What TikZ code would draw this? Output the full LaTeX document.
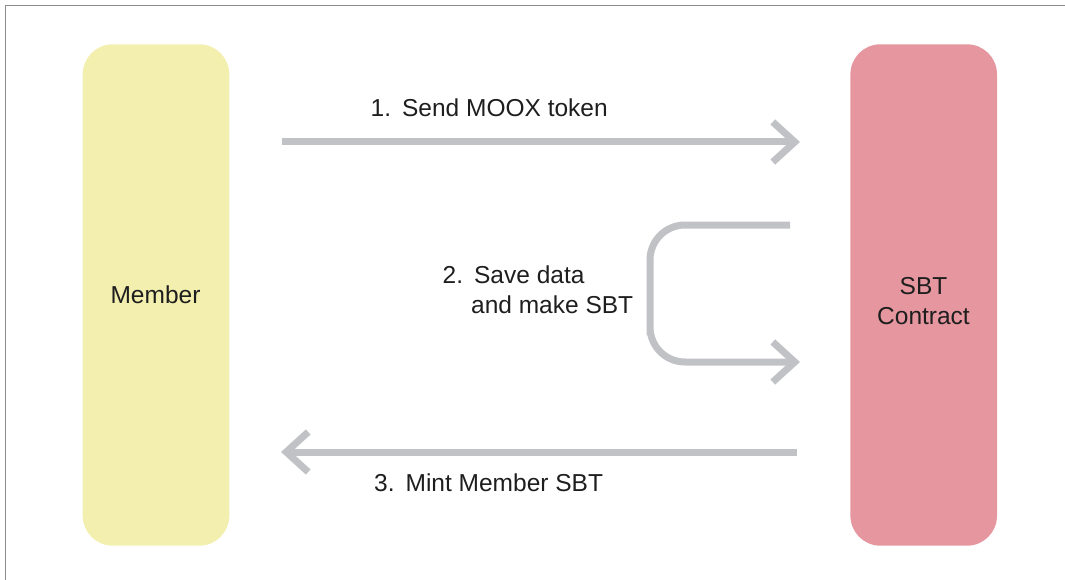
\documentclass[tikz,border=0pt]{standalone}
\usepackage{fontspec}
\setmainfont{Liberation Sans}
\usetikzlibrary{arrows.meta}
\definecolor{memberfill}{HTML}{F3EFAF}
\definecolor{sbtfill}{HTML}{E5969F}
\definecolor{flow}{HTML}{C1C2C6}
\definecolor{ink}{HTML}{1E1E1E}
\definecolor{framegray}{HTML}{8C8C8C}
\begin{document}
\begin{tikzpicture}[x=1pt,y=-1pt,
  party/.style={rounded corners=30pt, minimum width=146.6pt, minimum height=501.4pt, inner sep=0pt, draw=none},
  lbl/.style={text=ink, font=\fontsize{24.5}{30}\selectfont, inner sep=0pt},
  flowline/.style={draw=flow, line width=7pt, -{Straight Barb[length=22pt,width=40pt,sharp]}}
]
\useasboundingbox (0,0) rectangle (1065,580);
\draw[framegray, line width=1.5pt] (5.5,580) -- (5.5,5.5) -- (1065,5.5);

\node[party, fill=memberfill] (member) at (156,295) {};
\node[party, fill=sbtfill] (sbt) at (923.7,295) {};

\node[lbl, anchor=base] (membertxt) at (155.5,303.5) {Member};
\node[lbl, anchor=base] (sbttxt) at (923.5,294) {SBT};
\node[lbl, anchor=base] (contracttxt) at (923.5,324) {Contract};

% arrow 1
\coordinate (a1s) at (282,142);
\coordinate (a1e) at (800,142);
\draw[flowline] (a1s) -- (a1e);
\node[lbl, anchor=base west] (t1) at (370.5,117) {1.\hspace{11pt}Send MOOX token};

% arrow 2
\coordinate (a2s) at (790,225);
\coordinate (a2bend) at (650,300);
\coordinate (a2e) at (800,362);
\draw[flowline, rounded corners=35pt] (a2s) -| (a2bend) |- (a2e);
\node[lbl, anchor=base west] (t2) at (442.5,283.3) {2.\hspace{8pt}\begin{tabular}[t]{@{}l@{}}\hspace{3pt}Save data\\and make SBT\end{tabular}};

% arrow 3
\coordinate (a3s) at (797,452);
\coordinate (a3e) at (281,452);
\draw[flowline] (a3s) -- (a3e);
\node[lbl, anchor=base west] (t3) at (374,491) {3.\hspace{11pt}Mint Member SBT};
\end{tikzpicture}
\end{document}
